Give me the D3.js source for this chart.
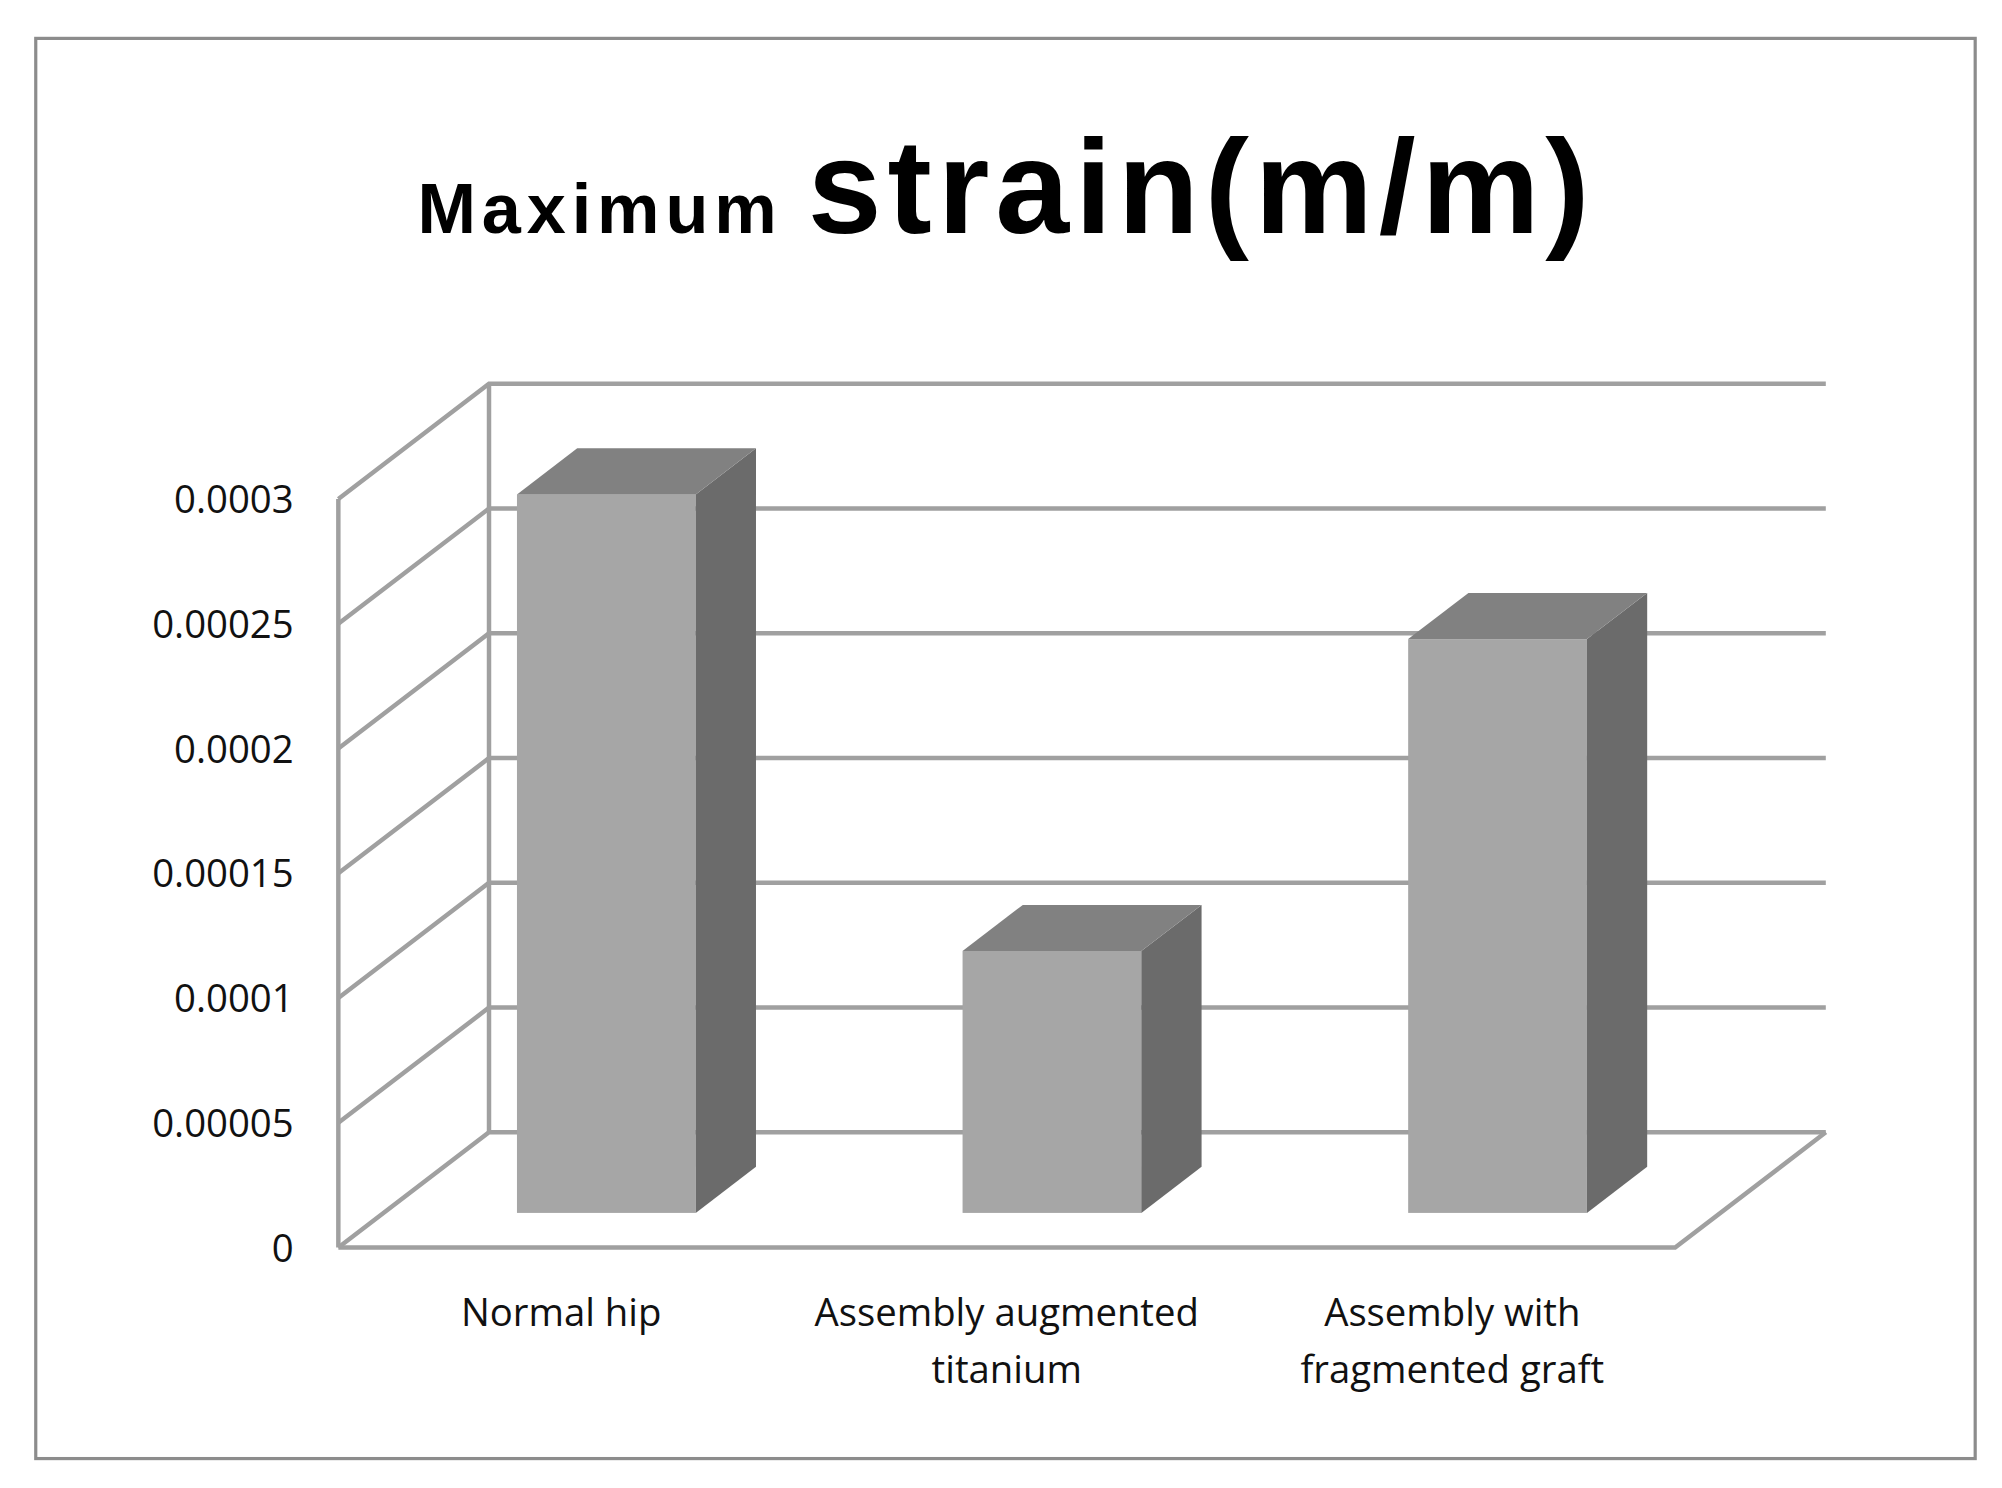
<!DOCTYPE html>
<html><head><meta charset="utf-8">
<script src="https://cdn.jsdelivr.net/npm/d3@7"></script>
<style>html,body{margin:0;background:#fff}</style>
</head><body>
<svg id="chart" width="2002" height="1488" viewBox="0 0 1568 1163" preserveAspectRatio="none"></svg>
<script>
const categories = [["Normal hip"], ["Assembly augmented", "titanium"], ["Assembly with", "fragmented graft"]];
const values = [0.000288, 0.000105, 0.00023];
const ticks = [0, 0.00005, 0.0001, 0.00015, 0.0002, 0.00025, 0.0003];
const tickLabels = ["0", "0.00005", "0.0001", "0.00015", "0.0002", "0.00025", "0.0003"];

const svg = d3.select("#chart");
const font = "'Open Sans', 'Noto Sans', sans-serif";
const gridColor = "#a0a0a0";

svg.append("rect").attr("x", 28).attr("y", 30).attr("width", 1519).attr("height", 1110)
  .attr("fill", "#fff").attr("stroke", "#8c8c8c").attr("stroke-width", 2.5);

const title = svg.append("text").attr("x", 327).attr("y", 182)
  .attr("textLength", 918).attr("lengthAdjust", "spacing")
  .attr("font-family", "'Liberation Sans', Arial, sans-serif").attr("font-weight", "bold");
title.append("tspan").attr("font-size", 55).text("Maximum ");
title.append("tspan").attr("font-size", 104).text("strain(m/m)");

// 3D geometry
const x0 = 265, x1 = 1312, depthX = 118, depthY = -90;
const y = d3.scaleLinear().domain([0, 0.0003]).range([975, 390]);
const x = d3.scaleBand().domain(d3.range(categories.length)).range([x0, x1]);

const g = svg.append("g");
// back wall grid and left wall diagonals
ticks.forEach(t => {
  const yy = y(t);
  g.append("path")
    .attr("d", `M${x0},${yy} L${x0 + depthX},${yy + depthY} L${x1 + depthX},${yy + depthY}`)
    .attr("fill", "none").attr("stroke", gridColor).attr("stroke-width", 3.5);
});
// floor
g.append("path")
  .attr("d", `M${x0},${y(0)} L${x1},${y(0)} L${x1 + depthX},${y(0) + depthY}`)
  .attr("fill", "none").attr("stroke", gridColor).attr("stroke-width", 3.5);
// left and back verticals
g.append("line").attr("x1", x0).attr("x2", x0).attr("y1", y(0)).attr("y2", y(0.0003))
  .attr("stroke", gridColor).attr("stroke-width", 3.5);
g.append("line").attr("x1", x0 + depthX).attr("x2", x0 + depthX).attr("y1", y(0) + depthY).attr("y2", y(0.0003) + depthY)
  .attr("stroke", gridColor).attr("stroke-width", 3.5);

// bars
const bw = 140, zFront = 0.3, zDepth = 0.4;
const dx = depthX * zDepth, dy = depthY * zDepth;
values.forEach((v, i) => {
  const cx = x(i) + x.bandwidth() / 2 + depthX * zFront;
  const bx = cx - bw / 2;
  const yb = y(0) + depthY * zFront;
  const yt = yb - (y(0) - y(v));
  g.append("rect").attr("x", bx).attr("y", yt).attr("width", bw).attr("height", yb - yt).attr("fill", "#a6a6a6");
  g.append("path").attr("d", `M${bx + bw},${yb} L${bx + bw + dx},${yb + dy} L${bx + bw + dx},${yt + dy} L${bx + bw},${yt} Z`).attr("fill", "#6b6b6b");
  g.append("path").attr("d", `M${bx},${yt} L${bx + dx},${yt + dy} L${bx + bw + dx},${yt + dy} L${bx + bw},${yt} Z`).attr("fill", "#818181");
});

// y tick labels
ticks.forEach((t, i) => {
  svg.append("text").attr("x", 230).attr("y", y(t) + 11).attr("text-anchor", "end")
    .attr("font-family", font).attr("font-size", 30).attr("fill", "#111").text(tickLabels[i]);
});

// category labels
categories.forEach((lines, i) => {
  const cx = x(i) + x.bandwidth() / 2;
  const t = svg.append("text").attr("x", cx).attr("y", 1036)
    .attr("text-anchor", "middle").attr("font-family", font).attr("font-size", 30).attr("fill", "#111");
  lines.forEach((l, j) => t.append("tspan").attr("x", cx).attr("dy", j ? 45 : 0).text(l));
});
</script>
</body></html>
